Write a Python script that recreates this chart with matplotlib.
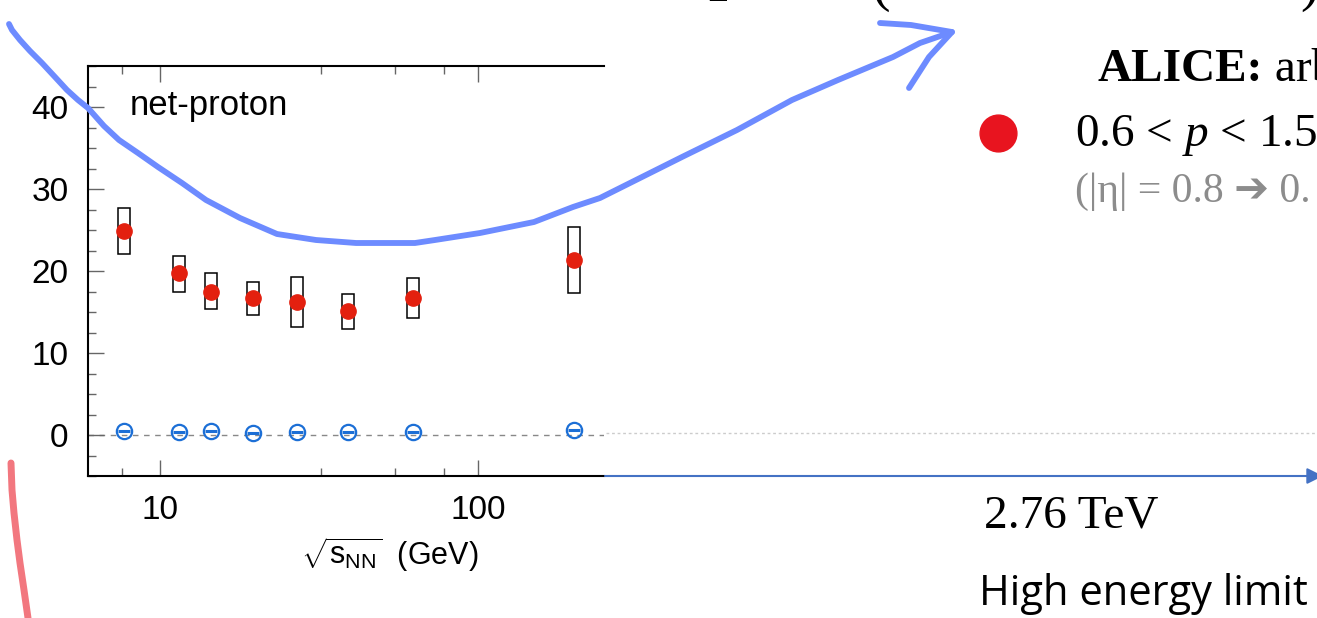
import matplotlib
matplotlib.use('Agg')
import matplotlib.pyplot as plt
from matplotlib.ticker import FixedLocator, FixedFormatter, MultipleLocator, NullFormatter

plt.rcParams['mathtext.fontset'] = 'custom'
plt.rcParams['mathtext.rm'] = 'Liberation Sans'
plt.rcParams['mathtext.it'] = 'Liberation Serif:italic'

# data
energy = [7.7, 11.5, 14.5, 19.6, 27, 39, 62.4, 200]
ratio = [24.9, 19.8, 17.4, 16.7, 16.2, 15.1, 16.7, 21.3]
sys_lo = [22.1, 17.4, 15.4, 14.6, 13.2, 12.9, 14.3, 17.3]
sys_hi = [27.7, 21.8, 19.8, 18.7, 19.3, 17.2, 19.1, 25.4]
other = [0.5, 0.4, 0.5, 0.3, 0.4, 0.4, 0.4, 0.6]
x_minor = [7.6, 32, 55, 78]

# hand-drawn pen strokes on the slide (pixel coords, origin top-left)
pen_x = [9, 12, 20, 30, 42, 55, 67, 78, 88, 104, 119, 138, 158, 182, 206, 240, 277, 316, 356, 415, 435, 480, 534, 573, 600,
         640, 682, 737, 792, 838, 893, 920, 952]
pen_y = [24, 30, 40, 51, 63, 77, 90, 100, 108, 126, 140, 153, 167, 183, 200, 218, 234, 240, 243, 243, 240, 233, 222, 207, 198,
         178, 157, 130, 100, 80, 57, 43, 32]
head_x = [880, 911, 952, 929, 909]
head_y = [23, 25, 32, 57, 88]
red_x = [11, 12, 14, 17, 20, 24, 28]
red_y = [463, 490, 513, 540, 563, 590, 618]

W, H = 1317, 618
fig = plt.figure(figsize=(W / 100, H / 100), dpi=100)
ax = fig.add_axes([88 / W, (H - 476) / H, (604 - 88) / W, (476 - 66) / H])

half = 10 ** (6 / 318)
left = [e / half for e in energy]
widths = [e * half - e / half for e in energy]
heights = [h - l for h, l in zip(sys_hi, sys_lo)]
ax.bar(left, heights, width=widths, bottom=sys_lo, align='edge', fill=False,
       edgecolor='black', linewidth=1.1, zorder=2)
ax.plot(energy, ratio, 'o', color='#e3200f', ms=11, zorder=3)
ax.plot(energy, other, 'o', mfc='none', mec='#1c6fd6', ms=11, mew=1.6, zorder=3)
ax.plot(energy, other, '_', color='#1c6fd6', ms=8, mew=2.2, zorder=3)
ax.axhline(0, color='#888888', lw=1, dashes=[4, 4], zorder=1)

ax.set_xscale('log')
ax.set_xlim(5.94, 249)
ax.set_ylim(-5, 45)
ax.xaxis.set_major_locator(FixedLocator([10, 100]))
ax.xaxis.set_major_formatter(FixedFormatter(['10', '100']))
ax.xaxis.set_minor_locator(FixedLocator(x_minor))
ax.xaxis.set_minor_formatter(NullFormatter())
ax.yaxis.set_major_locator(MultipleLocator(10))
ax.yaxis.set_minor_locator(MultipleLocator(2.5))
ax.spines['right'].set_visible(False)
for s in ['left', 'top', 'bottom']:
    ax.spines[s].set_linewidth(1.5)
ax.tick_params(which='both', direction='in', color='#666666', width=1, top=True, right=False)
ax.tick_params(which='major', length=11.5, pad=14, labelsize=24)
ax.tick_params(which='minor', length=5.8)
for lab in ax.get_xticklabels() + ax.get_yticklabels():
    lab.set_family('Liberation Sans')

ax.set_xlabel(r'$\sqrt{\mathrm{s}_{\mathrm{NN}}}$  (GeV)', fontsize=22, family='Liberation Sans')
ax.xaxis.label.set_va('center')
ax.xaxis.set_label_coords((390 - 88) / 516, -(555 - 476) / 410)
ax.text((130 - 88) / 516, (476 - 106) / 410, 'net-proton', transform=ax.transAxes,
        fontsize=25, family='Liberation Sans', va='center')

# overlay in slide pixels
ov = fig.add_axes([0, 0, 1, 1], zorder=10)
ov.set_xlim(0, W)
ov.set_ylim(H, 0)
ov.axis('off')
ov.patch.set_alpha(0)

ov.plot([606, W], [433, 433], color='#cccccc', lw=1, ls=(0, (2, 2)))
ov.annotate('', xy=(W + 6, 476), xytext=(605, 476), annotation_clip=False,
            arrowprops=dict(arrowstyle='-|>', color='#4472c4', lw=1.5, mutation_scale=24,
                            shrinkA=0, shrinkB=0))

ov.plot(pen_x, pen_y, color='#6d8bff', lw=4.2, solid_capstyle='round', solid_joinstyle='round')
ov.plot(head_x, head_y, color='#6d8bff', lw=4.2, solid_capstyle='round', solid_joinstyle='round')
ov.plot(red_x, red_y, color='#f2777f', lw=5, solid_capstyle='round')

ov.text(984, 516, '2.76 TeV', fontsize=34, family='Liberation Serif', va='center')
ov.text(979, 594, 'High energy limit', fontsize=30, family='Open Sans', va='center')
alice = ov.text(1098, 70, 'ALICE:', fontsize=34, fontweight='bold', family='Liberation Serif', va='center')
ov.annotate(' arb', xy=(1, 0.5), xycoords=alice, fontsize=34, family='Liberation Serif', va='center')
ov.plot([998], [133], 'o', color='#e8141f', ms=26.5)
ov.text(1075, 135, r'0.6 < $p$ < 1.5', fontsize=34, family='Liberation Serif', va='center')
ov.text(1075, 192, '(|η| = 0.8 ➔ 0.', fontsize=30, color='#8c8c8c',
        family=['Liberation Serif', 'DejaVu Sans'], va='center')
ov.text(707, 1, '2', fontsize=30, fontweight='bold', family='Liberation Serif', va='baseline')
ov.text(872, 12, '(', fontsize=40, family='Liberation Serif', va='bottom')
ov.text(1300, 12, ')', fontsize=40, family='Liberation Serif', va='bottom')

fig.savefig('out.png', dpi=100)
